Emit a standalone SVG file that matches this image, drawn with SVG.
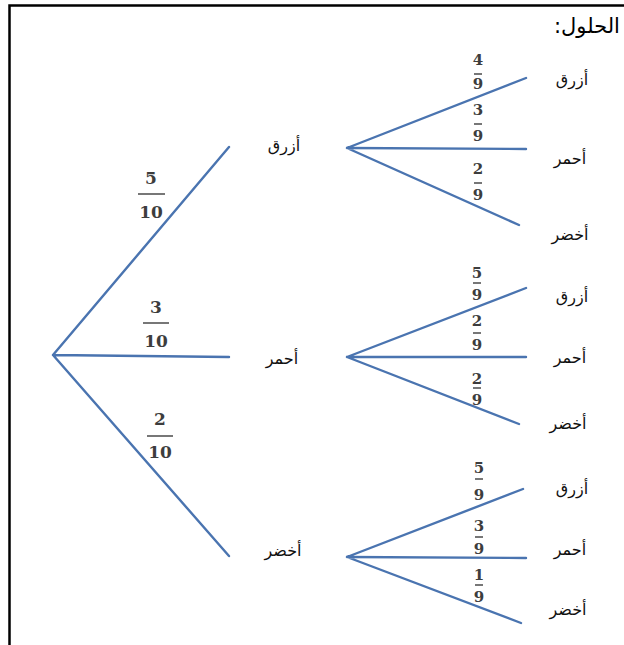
<svg xmlns="http://www.w3.org/2000/svg" width="624" height="645" viewBox="0 0 624 645">
  <style>
    .frame { stroke: #000; stroke-width: 2.5; fill: none; }
    .edge { stroke: #4a74b0; stroke-width: 2.4; stroke-linecap: round; fill: none; }
    .lbl { font-family: "DejaVu Sans", "Noto Sans", sans-serif; font-size: 16px; fill: #111; text-anchor: middle; direction: rtl; }
    .title { font-family: "DejaVu Sans", "Noto Sans", sans-serif; font-size: 21px; fill: #000; text-anchor: middle; direction: rtl; }
    .num { font-family: "DejaVu Serif", "Liberation Serif", serif; font-weight: bold; fill: #3d3d3d; text-anchor: middle; }
    .big { font-size: 17px; }
    .small { font-size: 15px; }
    .bar { stroke: #555; stroke-width: 1.6; }
  </style>

  <!-- page frame (top and left rules) -->
  <path class="frame" d="M9.5,645 V5.5 H624"/>

  <text class="title" x="587" y="33">الحلول:</text>

  <!-- branches -->
  <g id="connectors">
    <path class="edge" d="M53,355 L229,147 M53,355 L229,357 M53,355 L229,556"/>
    <path class="edge" d="M347,148 L526,78 M347,148 L526,149 M347,148 L519,225"/>
    <path class="edge" d="M347,357 L526,288 M347,357 L526,357 M347,357 L519,424"/>
    <path class="edge" d="M347,557 L523,489 M347,557 L526,558 M347,557 L521,623"/>
  </g>

  <!-- branch probabilities -->
  <g id="edge-labels">
    <g class="num big">
      <text x="151" y="184">5</text><line class="bar" x1="138" y1="194" x2="165" y2="194"/><text x="151" y="218">10</text>
      <text x="156" y="313">3</text><line class="bar" x1="143" y1="323" x2="169" y2="323"/><text x="156" y="347">10</text>
      <text x="160" y="425">2</text><line class="bar" x1="147" y1="436" x2="173" y2="436"/><text x="160" y="458">10</text>
    </g>
    <g class="num small">
      <text x="478" y="65">4</text><line class="bar" x1="474" y1="74" x2="482" y2="74"/><text x="478" y="89">9</text>
      <text x="478" y="115">3</text><line class="bar" x1="474" y1="124" x2="482" y2="124"/><text x="478" y="141">9</text>
      <text x="478" y="174">2</text><line class="bar" x1="474" y1="183" x2="482" y2="183"/><text x="478" y="200">9</text>

      <text x="477" y="278">5</text><line class="bar" x1="473" y1="283" x2="481" y2="283"/><text x="477" y="300">9</text>
      <text x="477" y="326">2</text><line class="bar" x1="473" y1="333" x2="481" y2="333"/><text x="477" y="350">9</text>
      <text x="477" y="384">2</text><line class="bar" x1="473" y1="388" x2="481" y2="388"/><text x="477" y="405">9</text>

      <text x="479" y="473">5</text><line class="bar" x1="475" y1="479" x2="483" y2="479"/><text x="479" y="500">9</text>
      <text x="479" y="531">3</text><line class="bar" x1="475" y1="537" x2="483" y2="537"/><text x="479" y="554">9</text>
      <text x="479" y="580">1</text><line class="bar" x1="475" y1="585" x2="483" y2="585"/><text x="479" y="602">9</text>
    </g>
  </g>

  <!-- first draw -->
  <g id="node-blue"><text class="lbl" x="284" y="151">أزرق</text></g>
  <g id="node-red"><text class="lbl" x="282" y="364">أحمر</text></g>
  <g id="node-green"><text class="lbl" x="283" y="556">أخضر</text></g>

  <!-- second draw after blue -->
  <g id="node-blue-blue"><text class="lbl" x="572" y="85">أزرق</text></g>
  <g id="node-blue-red"><text class="lbl" x="570" y="164">أحمر</text></g>
  <g id="node-blue-green"><text class="lbl" x="570" y="240">أخضر</text></g>

  <!-- second draw after red -->
  <g id="node-red-blue"><text class="lbl" x="572" y="302">أزرق</text></g>
  <g id="node-red-red"><text class="lbl" x="570" y="363">أحمر</text></g>
  <g id="node-red-green"><text class="lbl" x="568" y="429">أخضر</text></g>

  <!-- second draw after green -->
  <g id="node-green-blue"><text class="lbl" x="572" y="494">أزرق</text></g>
  <g id="node-green-red"><text class="lbl" x="570" y="555">أحمر</text></g>
  <g id="node-green-green"><text class="lbl" x="568" y="615">أخضر</text></g>
</svg>
